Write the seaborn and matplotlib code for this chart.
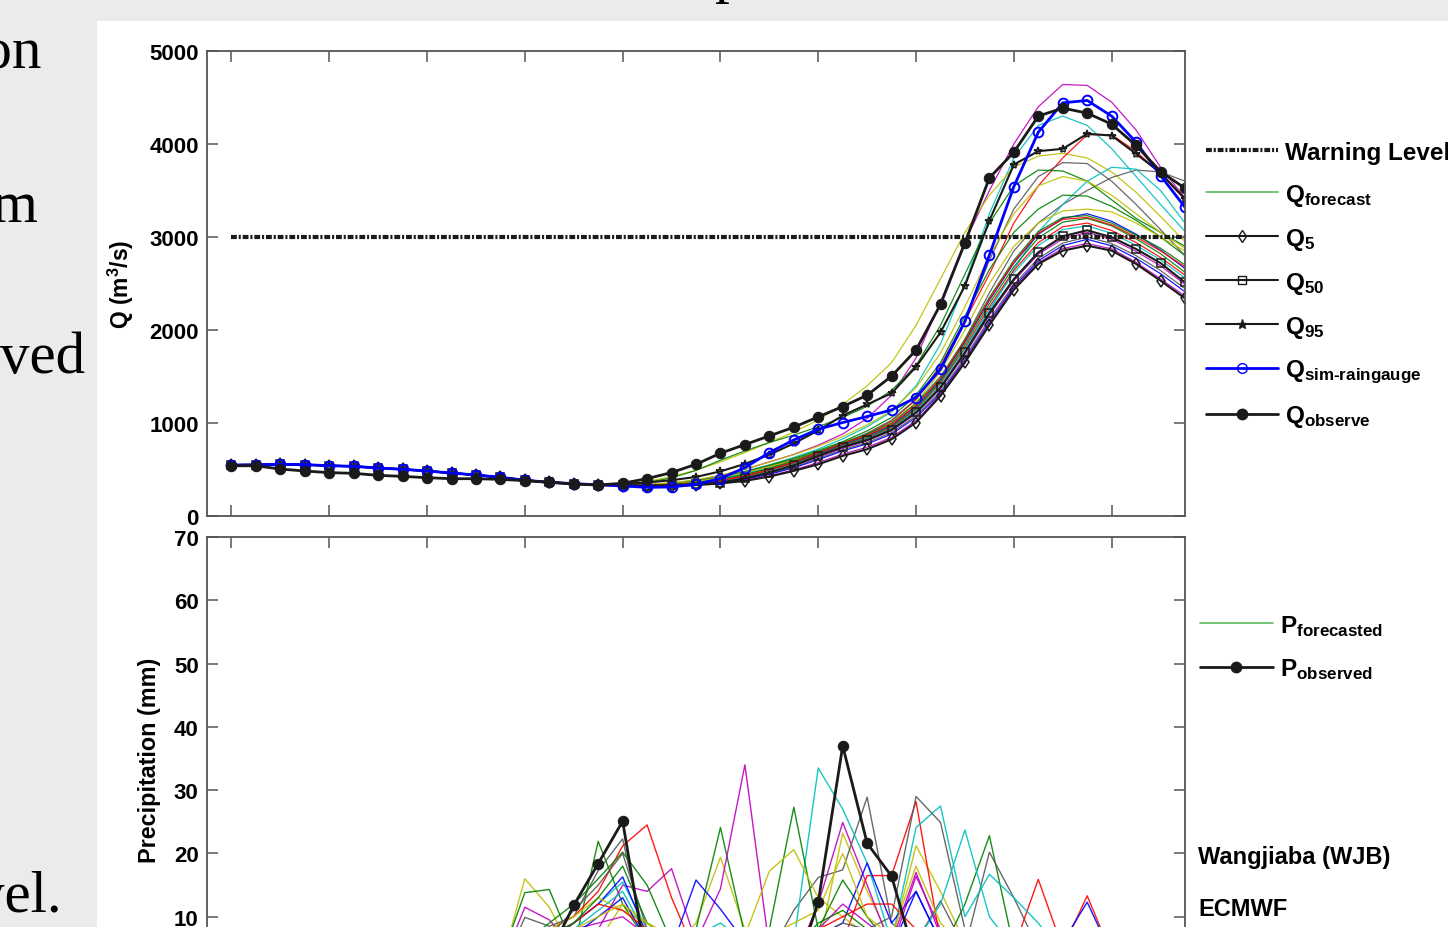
import pandas as pd
import seaborn as sns
import matplotlib.pyplot as plt
from matplotlib.lines import Line2D
from matplotlib.patches import Rectangle

W, H = 1448, 928

steps = list(range(40))
tick_steps = list(range(0, 40, 4))
p_steps = steps[11:]

# discharge before the runs split apart (all runs share it)
q_start = [548, 550, 556, 552, 541, 534, 516, 502, 484, 462, 441, 416, 385, 362, 348, 335]

q_observe = [540, 540, 505, 484, 466, 459, 437, 426, 412, 401, 401, 394, 380, 362, 344, 333,
             352, 402, 467, 556, 675, 768, 861, 955, 1066, 1177, 1299, 1504, 1784, 2275, 2939, 3636,
             3912, 4300, 4386, 4332, 4213, 3984, 3704, 3524]
q_sim_tail = [323, 308, 312, 341, 402, 520, 682, 818, 933, 1005, 1070, 1141, 1274, 1579, 2092, 2807,
              3542, 4127, 4443, 4468, 4300, 4020, 3661, 3320]
q5_tail = [325, 320, 322, 332, 350, 377, 424, 485, 556, 646, 718, 825, 1005, 1292, 1651, 2053,
           2433, 2710, 2853, 2907, 2853, 2710, 2530, 2340]
q50_tail = [330, 325, 330, 340, 359, 405, 467, 545, 646, 743, 818, 926, 1113, 1382, 1759, 2182,
            2548, 2835, 3008, 3072, 2997, 2871, 2720, 2512]
q95_tail = [345, 360, 385, 420, 480, 560, 660, 780, 920, 1080, 1200, 1320, 1604, 1974, 2476, 3176,
            3779, 3923, 3948, 4110, 4091, 3894, 3690, 3410]

q_forecast_tails = {
    "E01": [332, 336, 352, 382, 432, 502, 582, 662, 762, 882, 1050, 1300, 1700, 2300, 2950, 3500, 4000, 4400, 4640, 4630, 4450, 4150, 3750, 3420],
    "E02": [330, 334, 350, 375, 420, 480, 550, 630, 720, 830, 960, 1120, 1400, 1850, 2500, 3250, 3850, 4200, 4300, 4200, 3950, 3650, 3350, 3060],
    "E03": [342, 372, 422, 492, 582, 682, 792, 902, 1032, 1200, 1400, 1650, 2050, 2550, 3050, 3450, 3750, 3870, 3900, 3850, 3700, 3480, 3220, 2950],
    "E04": [330, 331, 341, 366, 411, 466, 531, 601, 681, 771, 881, 1020, 1250, 1620, 2100, 2600, 3150, 3550, 3850, 4100, 4100, 3920, 3680, 3400],
    "E05": [331, 336, 346, 371, 416, 471, 541, 611, 691, 781, 891, 1030, 1260, 1600, 2100, 2750, 3300, 3650, 3800, 3790, 3600, 3350, 3080, 2800],
    "E06": [330, 330, 340, 360, 400, 450, 510, 580, 650, 730, 830, 950, 1150, 1450, 1900, 2400, 2850, 3150, 3350, 3500, 3640, 3720, 3700, 3600],
    "E07": [335, 360, 410, 490, 600, 700, 790, 870, 960, 1060, 1180, 1350, 1620, 2050, 2600, 3150, 3550, 3720, 3710, 3600, 3400, 3200, 3050, 2900],
    "E08": [330, 331, 343, 366, 408, 460, 520, 590, 665, 745, 840, 960, 1150, 1450, 1800, 2200, 2650, 3050, 3350, 3600, 3750, 3730, 3500, 3150],
    "E09": [331, 335, 348, 375, 420, 477, 545, 620, 705, 800, 915, 1060, 1300, 1650, 2150, 2650, 3050, 3300, 3450, 3440, 3330, 3180, 3000, 2800],
    "E10": [333, 340, 358, 390, 440, 505, 580, 660, 750, 855, 980, 1130, 1380, 1750, 2250, 2800, 3250, 3550, 3650, 3600, 3450, 3250, 3050, 2880],
    "E11": [331, 333, 345, 370, 413, 467, 530, 600, 680, 770, 875, 1000, 1220, 1550, 2000, 2500, 2900, 3150, 3280, 3300, 3270, 3150, 3000, 2850],
    "E12": [332, 330, 338, 352, 380, 430, 495, 575, 670, 770, 860, 975, 1180, 1470, 1870, 2320, 2720, 3030, 3200, 3250, 3170, 3030, 2860, 2660],
    "E13": [331, 328, 336, 350, 376, 425, 490, 568, 662, 760, 848, 962, 1162, 1448, 1842, 2285, 2680, 2990, 3160, 3200, 3120, 2980, 2820, 2620],
    "E14": [330, 327, 334, 347, 371, 418, 482, 560, 655, 752, 835, 948, 1145, 1425, 1812, 2250, 2640, 2940, 3110, 3150, 3070, 2940, 2780, 2590],
    "E15": [330, 326, 333, 345, 368, 414, 478, 556, 652, 749, 830, 940, 1135, 1412, 1795, 2228, 2612, 2910, 3080, 3120, 3040, 2910, 2755, 2560],
    "E16": [329, 324, 330, 340, 360, 404, 465, 540, 632, 728, 808, 916, 1105, 1370, 1740, 2160, 2530, 2815, 2980, 3050, 2975, 2845, 2690, 2490],
    "E17": [328, 323, 328, 337, 354, 397, 455, 528, 618, 712, 790, 895, 1080, 1340, 1705, 2118, 2488, 2770, 2935, 3000, 2930, 2800, 2640, 2445],
    "E18": [328, 322, 326, 335, 352, 393, 448, 518, 606, 700, 775, 880, 1060, 1320, 1680, 2090, 2465, 2745, 2908, 2975, 2905, 2770, 2605, 2410],
    "E19": [327, 321, 324, 334, 351, 384, 432, 495, 575, 665, 740, 845, 1025, 1305, 1665, 2070, 2450, 2725, 2875, 2930, 2872, 2728, 2550, 2365],
    "E20": [332, 332, 342, 360, 392, 445, 512, 592, 690, 790, 880, 1000, 1210, 1500, 1900, 2350, 2750, 3060, 3210, 3230, 3150, 3020, 2880, 2700],
    "E21": [331, 329, 337, 352, 380, 432, 500, 580, 680, 780, 868, 985, 1190, 1480, 1880, 2330, 2730, 3040, 3190, 3210, 3130, 3000, 2850, 2680],
}

warning_level = 3000

# precipitation from step 11 on (earlier values are zero)
p_observed = [2, 4, 4, 11.8, 18.4, 25.1, 2, 3, 4, 3, 4, 3, 0.5, 12.3, 37.0, 21.6, 16.4, 3, 2, 2, 3, 2, 1, 1, 0.5, 0.5, 0, 0, 0]

p_forecast = {
    "P01": [2, 16.0, 11.5, 4, 6, 12, 8, 5, 9, 19.4, 8, 4, 3, 5, 23.2, 14, 6, 21.2, 14, 6, 4, 2, 1, 1, 0, 0, 0, 0, 0],
    "P02": [3, 13.8, 14.3, 5, 21.9, 12, 6, 4, 8, 24.1, 7, 5, 6, 8, 15.8, 10, 5, 6, 4, 12, 22.8, 5, 2, 1, 0, 0, 0, 0, 0],
    "P03": [2, 11.5, 9.5, 5, 8, 15, 14, 17.6, 6, 14.4, 34.0, 5, 3, 12, 24.9, 15, 5, 16.4, 8, 4, 3, 2, 1, 0, 0, 0, 0, 0, 0],
    "P04": [1, 9.9, 8.5, 10, 17.3, 22.3, 5, 3, 4, 6, 5, 4, 11, 16.2, 17.4, 28.9, 9, 6, 12.5, 5, 20.2, 13, 5, 2, 1, 0, 0, 0, 0],
    "P05": [1, 5, 8, 10, 14, 21.2, 24.5, 13, 4, 3, 2, 3, 5, 6, 6, 16.5, 16.5, 28.2, 6, 3, 2, 5, 15.9, 5, 13.3, 4, 1, 0, 0],
    "P06": [0, 3, 6, 9, 12, 15.5, 8, 6, 7, 9, 6, 5, 6, 33.5, 27, 18.5, 6, 24.1, 27.5, 10, 16.7, 13, 9, 4, 2, 1, 0, 0, 0],
    "P07": [1, 4, 7, 9, 12, 16.3, 7, 5, 15.8, 11.2, 6, 4, 5, 7, 9, 18.5, 9, 14, 6, 3, 2, 3, 5, 6, 12.3, 4, 1, 0, 0],
    "P08": [2, 6, 9, 12, 16, 20.2, 15, 6, 5, 4, 6, 8, 27.3, 8, 6, 5, 4, 5, 3, 4, 6, 4, 2, 1, 0, 0, 0, 0, 0],
    "P09": [1, 5, 8, 10, 13, 11, 9, 7, 6, 5, 7, 17.2, 20.6, 13, 10, 7, 5, 6, 5, 4, 3, 2, 1, 0, 0, 0, 0, 0, 0],
    "P10": [1, 4, 7, 11, 15, 20, 8, 5, 4, 6, 5, 5, 6, 7, 9, 8, 10, 29.0, 24.9, 8, 4, 3, 2, 1, 0, 0, 0, 0, 0],
    "P11": [0, 3, 5, 8, 11, 14, 7, 5, 4, 5, 4, 3, 4, 5, 6, 5, 4, 6, 12, 23.7, 10, 5, 2, 1, 0, 0, 0, 0, 0],
    "P12": [1, 4, 6, 8, 9, 10, 7, 4, 5, 7, 5, 4, 5, 8, 12, 9, 6, 17, 7, 4, 2, 1, 0, 0, 0, 0, 0, 0, 0],
    "P13": [0, 2, 5, 7, 10, 13, 6, 4, 6, 8, 5, 3, 4, 5, 7, 6, 5, 14, 6, 3, 2, 1, 0, 0, 0, 0, 0, 0, 0],
    "P14": [1, 3, 6, 9, 12, 11, 8, 5, 7, 6, 4, 5, 6, 8, 10, 12, 12, 8, 5, 3, 2, 1, 0, 0, 0, 0, 0, 0, 0],
    "P15": [1, 5, 7, 9, 13, 18, 9, 6, 5, 7, 6, 4, 5, 9, 11, 8, 6, 7, 5, 3, 2, 1, 0, 0, 0, 0, 0, 0, 0],
    "P16": [0, 4, 6, 8, 10, 12, 9, 6, 5, 6, 5, 7, 9, 11, 20, 10, 7, 18, 9, 5, 3, 2, 1, 0, 0, 0, 0, 0, 0],
}

MB, MG, MR, MC, MM, MY, MK = "#0000ff", "#008000", "#ff0000", "#00bfbf", "#bf00bf", "#bfbf00", "#595959"
q_colors = dict(zip(q_forecast_tails, [MM, MC, MY, MR, MK, MK, MG, MC, MG, MY, MY,
                                       MB, MG, MR, MC, MM, MK, MB, MM, MG, MR]))
p_colors = dict(zip(p_forecast, [MY, MG, MM, MK, MR, MC, MB, MG, MY, MK, MC, MM, MB, MR, MG, MY]))
legend_green = "#5cb85c"
warn_dash = (0, (1.4, 0.45, 0.5, 0.45))


def long_table(runs, head, x):
    rows = []
    for name, tail in runs.items():
        for s, v in zip(x, head + tail):
            rows.append((name, s, v))
    return pd.DataFrame(rows, columns=["member", "step", "value"])


def main():
    sns.set_theme(style="white")
    plt.rcParams["font.family"] = ["Liberation Sans", "DejaVu Sans"]
    plt.rcParams["font.weight"] = "bold"
    for key in ["text.color", "axes.labelcolor", "xtick.color", "ytick.color"]:
        plt.rcParams[key] = "black"
    plt.rcParams["mathtext.fontset"] = "custom"
    plt.rcParams["mathtext.rm"] = "Liberation Sans:bold"
    plt.rcParams["mathtext.bf"] = "Liberation Sans:bold"
    plt.rcParams["mathtext.it"] = "Liberation Sans:bold"

    fig = plt.figure(figsize=(W / 100, H / 100), dpi=100, facecolor="#ebebeb")
    fig.add_artist(Rectangle((97 / W, 0), 1 - 97 / W, (H - 22) / H, transform=fig.transFigure,
                             facecolor="white", edgecolor="none", zorder=-5))

    ax1 = fig.add_axes([207 / W, 1 - 517 / H, 978 / W, 465 / H])
    ax2 = fig.add_axes([207 / W, 1 - 981 / H, 978 / W, 443 / H])

    # discharge panel
    q_df = long_table(q_forecast_tails, q_start, steps)
    sns.lineplot(data=q_df, x="step", y="value", hue="member", palette=q_colors, estimator=None,
                 legend=False, linewidth=0.9, alpha=0.9, ax=ax1)
    ax1.hlines(warning_level, steps[0], steps[-1], colors="k", linewidth=3, linestyles=[warn_dash])
    for tail, mk, ms in [(q5_tail, "d", 6), (q50_tail, "s", 5.5), (q95_tail, "*", 6)]:
        sns.lineplot(x=steps, y=q_start + tail, color="k", linewidth=1.5, marker=mk, markersize=ms,
                     markerfacecolor="none", markeredgecolor="k", markeredgewidth=1.1, ax=ax1)
    sns.lineplot(x=steps, y=q_start + q_sim_tail, color="#0000ff", linewidth=2, marker="o", markersize=7,
                 markerfacecolor="none", markeredgecolor="#0000ff", markeredgewidth=1.4, ax=ax1)
    sns.lineplot(x=steps, y=q_observe, color="k", linewidth=2, marker="o", markersize=7.5,
                 markerfacecolor="k", markeredgecolor="k", ax=ax1)

    # precipitation panel
    p_df = long_table(p_forecast, [], p_steps)
    sns.lineplot(data=p_df, x="step", y="value", hue="member", palette=p_colors, estimator=None,
                 legend=False, linewidth=1.0, alpha=0.9, ax=ax2)
    sns.lineplot(x=p_steps, y=p_observed, color="k", linewidth=2, marker="o", markersize=7.5,
                 markerfacecolor="k", markeredgecolor="k", ax=ax2)

    for ax, ymax, yt in [(ax1, 5000, range(0, 5001, 1000)), (ax2, 70, range(0, 71, 10))]:
        ax.set_xlim(-1, 39)
        ax.set_ylim(0, ymax)
        ax.set_xticks(tick_steps)
        ax.set_xticklabels([])
        ax.set_yticks(list(yt))
        ax.set_xlabel("")
        ax.tick_params(direction="in", length=8, width=1.1, color="#555555", labelcolor="black",
                       top=True, right=True, bottom=True, left=True, labelsize=16, pad=6)
        for lab in ax.get_yticklabels():
            lab.set_fontweight("bold")
        for sp in ax.spines.values():
            sp.set_color("#555555")
            sp.set_linewidth(1.3)

    ax1.set_ylabel(r"Q (m$^{\mathbf{3}}$/s)", fontsize=16.5, fontweight="bold")
    ax2.set_ylabel("Precipitation (mm)", fontsize=16.8, fontweight="bold")
    ax1.yaxis.set_label_coords(-0.0725, 0.5)
    ax2.yaxis.set_label_coords(-0.047, (981 - 760) / 443)

    h1 = [Line2D([], [], color="k", lw=3, linestyle=warn_dash),
          Line2D([], [], color=legend_green, lw=1.2),
          Line2D([], [], color="k", lw=1.5, marker="d", ms=6.5, mfc="none"),
          Line2D([], [], color="k", lw=1.5, marker="s", ms=6, mfc="none"),
          Line2D([], [], color="k", lw=1.5, marker="*", ms=6.5),
          Line2D([], [], color="#0000ff", lw=2, marker="o", ms=7, mfc="none"),
          Line2D([], [], color="k", lw=2, marker="o", ms=7.5)]
    l1 = ["Warning Level", r"$\mathbf{Q}_{\mathbf{forecast}}$", r"$\mathbf{Q}_{\mathbf{5}}$",
          r"$\mathbf{Q}_{\mathbf{50}}$", r"$\mathbf{Q}_{\mathbf{95}}$",
          r"$\mathbf{Q}_{\mathbf{sim}\text{-}\mathbf{raingauge}}$", r"$\mathbf{Q}_{\mathbf{observe}}$"]
    fig.legend(h1, l1, loc="upper left", bbox_to_anchor=(1206 / W, 1 - 142 / H), frameon=False,
               prop={"size": 17.5, "weight": "bold"}, handlelength=2.95, handletextpad=0.3,
               labelspacing=0.74, borderpad=0, borderaxespad=0)

    h2 = [Line2D([], [], color=legend_green, lw=1.2),
          Line2D([], [], color="k", lw=2, marker="o", ms=7.5)]
    l2 = [r"$\mathbf{P}_{\mathbf{forecasted}}$", r"$\mathbf{P}_{\mathbf{observed}}$"]
    fig.legend(h2, l2, loc="upper left", bbox_to_anchor=(1200 / W, 1 - 614 / H), frameon=False,
               prop={"size": 17.5, "weight": "bold"}, handlelength=3.0, handletextpad=0.3,
               labelspacing=0.75, borderpad=0, borderaxespad=0)

    fig.text(1198 / W, 1 - 858 / H, "Wangjiaba (WJB)", fontsize=17, fontweight="bold", va="center")
    fig.text(1198 / W, 1 - 910 / H, "ECMWF", fontsize=17, fontweight="bold", va="center")

    # cut-off slide text at the left edge and the title above
    serif = ["Liberation Serif", "DejaVu Serif"]
    for txt, xr, yb in [("ion", 42, 68), ("m", 38, 222), ("ved", 85, 373), ("vel.", 62, 912)]:
        fig.text(xr / W, 1 - yb / H, txt, ha="right", va="baseline", fontsize=42.5,
                 family=serif, fontweight="normal")
    fig.text(730 / W, 1 + 9 / H, "p", ha="center", va="baseline", fontsize=42.5, family=serif,
             fontweight="normal")

    fig.savefig("out.png", dpi=100)
    plt.close(fig)


if __name__ == "__main__":
    main()
